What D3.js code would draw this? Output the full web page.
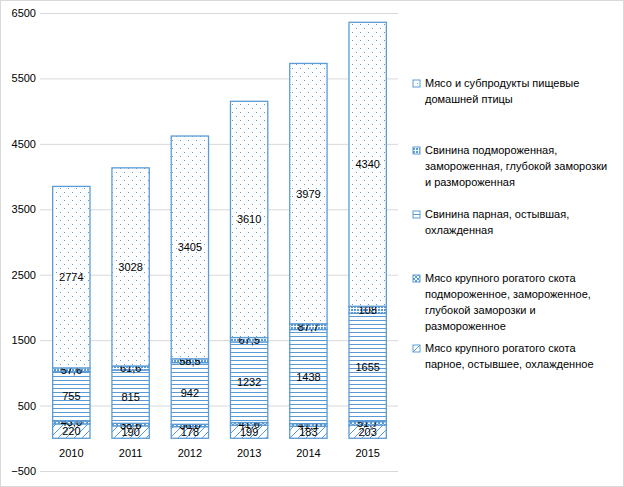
<!DOCTYPE html>
<html><head><meta charset="utf-8">
<script src="https://cdn.jsdelivr.net/npm/d3@7"></script>
<style>body{margin:0;background:#fff}text{font-family:"Liberation Sans",Arial,sans-serif;font-size:11px;fill:#000}</style>
</head><body><svg id="c" width="624" height="487"></svg>
<script>
var years = ["2010","2011","2012","2013","2014","2015"];
var cattleChilled = [220,190,178,199,183,203];
var cattleFrozen = [43.0,38.6,36.0,41.6,41.1,51.7];
var porkChilled = [755,815,942,1232,1438,1655];
var porkFrozen = [57.6,61.6,58.5,67.5,87.7,108];
var poultry = [2774,3028,3405,3610,3979,4340];
var yTicks = [-500,500,1500,2500,3500,4500,5500,6500];
var seriesNames = [
  ["Мясо крупного рогатого скота","парное, остывшее, охлажденное"],
  ["Мясо крупного рогатого скота","подмороженное, замороженное,","глубокой заморозки и","размороженное"],
  ["Свинина парная, остывшая,","охлажденная"],
  ["Свинина подмороженная,","замороженная, глубокой заморозки","и размороженная"],
  ["Мясо и субпродукты пищевые","домашней птицы"]
];
var series = [cattleChilled,cattleFrozen,porkChilled,porkFrozen,poultry];
var blue = "#5b9bd5";

var svg = d3.select("#c");
svg.append("rect").attr("x",0.5).attr("y",0.5).attr("width",623).attr("height",486).attr("fill","#fff").attr("stroke","#d9d9d9");
var defs = svg.append("defs");
function pat(id,w,h,draw){var p=defs.append("pattern").attr("id",id).attr("patternUnits","userSpaceOnUse").attr("width",w).attr("height",h);p.append("rect").attr("width",w).attr("height",h).attr("fill","#fff");draw(p);}
pat("p0",8,8,function(p){p.append("path").attr("d","M0,8L8,0M-2,2L2,-2M6,10L10,6").attr("stroke",blue).attr("stroke-width",1);});
pat("p1",4,4,function(p){p.append("rect").attr("width",2).attr("height",2).attr("fill",blue);p.append("rect").attr("x",2).attr("y",2).attr("width",2).attr("height",2).attr("fill",blue);});
pat("p2",4,4,function(p){p.append("rect").attr("y",0).attr("width",4).attr("height",1).attr("fill",blue);});
pat("p3",3,3,function(p){p.append("rect").attr("width",2).attr("height",2).attr("fill",blue);});
pat("p4",8,8,function(p){p.append("rect").attr("width",1).attr("height",1).attr("fill",blue);p.append("rect").attr("x",4).attr("y",4).attr("width",1).attr("height",1).attr("fill",blue);});

var x = d3.scaleBand().domain(years).range([42,397]).paddingInner(0.37).paddingOuter(0.18);
var y = d3.scaleLinear().domain([-500,6500]).range([471,13]);

svg.append("g").selectAll("line").data(yTicks).enter().append("line")
  .attr("x1",40).attr("x2",398).attr("y1",function(d){return y(d)+0.5;}).attr("y2",function(d){return y(d)+0.5;})
  .attr("stroke","#d9d9d9");
var ya = svg.append("g").attr("transform","translate(36,0)").call(d3.axisLeft(y).tickValues(yTicks).tickFormat(d3.format("d")).tickSize(0).tickPadding(0));
ya.select(".domain").remove();
var xa = svg.append("g").attr("transform","translate(0,"+y(0)+")").call(d3.axisBottom(x).tickSize(0).tickPadding(11));
xa.select(".domain").remove();
svg.selectAll(".tick text").style("font-family","Liberation Sans,Arial,sans-serif").style("font-size","11px").attr("fill","#000");

var stacked = d3.stack().keys([0,1,2,3,4]).value(function(d,k){return series[k][d];})(d3.range(years.length));
stacked.forEach(function(layer,k){
  var g = svg.append("g");
  g.selectAll("rect").data(layer).enter().append("rect")
    .attr("x",function(d,i){return x(years[i]);}).attr("width",x.bandwidth())
    .attr("y",function(d){return y(d[1]);}).attr("height",function(d){return y(d[0])-y(d[1]);})
    .attr("fill","url(#p"+k+")").attr("stroke",blue).attr("stroke-width",1.3);
  g.selectAll("text").data(layer).enter().append("text")
    .attr("x",function(d,i){return x(years[i])+x.bandwidth()/2;})
    .attr("y",function(d){return (y(d[0])+y(d[1]))/2+4;})
    .attr("text-anchor","middle")
    .text(function(d,i){return String(series[k][i]).replace(".",",").replace(/^(\d+)$/,function(m){return (k==1)?m+",0":m;});});
});

var legY = [352,282,218,154,87];
seriesNames.forEach(function(lines,k){
  var g = svg.append("g").attr("transform","translate(413,"+legY[k]+")");
  g.append("rect").attr("x",0).attr("y",-7).attr("width",7).attr("height",7).attr("fill","url(#p"+k+")").attr("stroke",blue);
  lines.forEach(function(t,j){g.append("text").attr("x",12).attr("y",j*16).text(t);});
});
</script></body></html>
